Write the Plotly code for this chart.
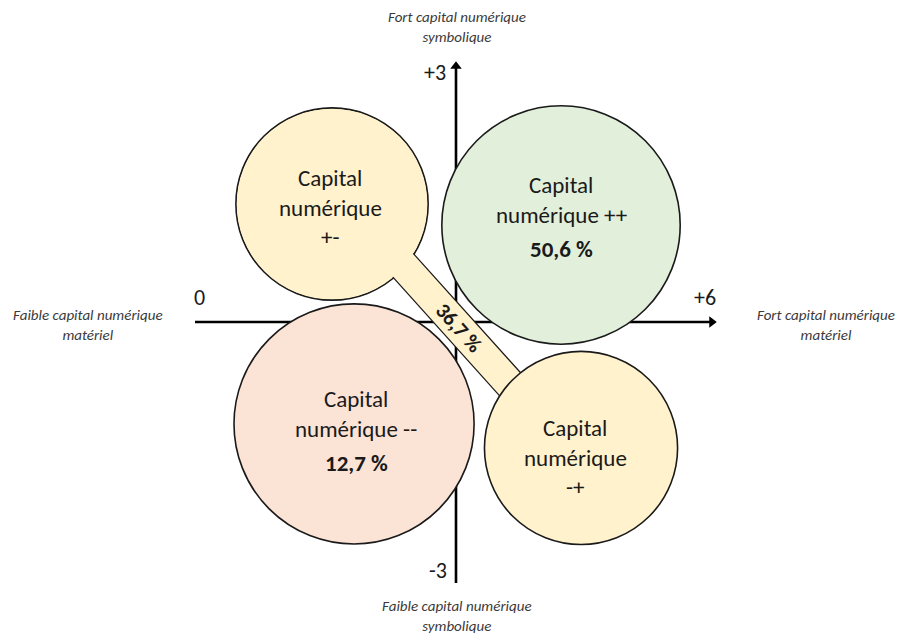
import plotly.graph_objects as go

# ---------------- data ----------------
segment_names = ["+-", "++", "--", "-+"]
segment_lines = [
    ["Capital", "numérique", "+-"],
    ["Capital", "numérique ++"],
    ["Capital", "numérique --"],
    ["Capital", "numérique", "-+"],
]
segment_shares = [None, 50.6, 12.7, None]   # % of respondents
mixed_share = 36.7                           # shared by "+-" and "-+"

x_axis_values = [0, 6]
y_axis_values = [-3, 3]
x_tick_labels = ["0", "+6"]
y_tick_labels = ["-3", "+3"]

pole_x_low = ["Faible capital numérique", "matériel"]
pole_x_high = ["Fort capital numérique", "matériel"]
pole_y_low = ["Faible capital numérique", "symbolique"]
pole_y_high = ["Fort capital numérique", "symbolique"]

# ---------------- layout / styling (axis units) ----------------
PX = 87.0  # pixels per axis unit
X_RANGE = [-195 / PX, (900 - 195) / PX]
Y_RANGE = [-(637 - 322) / PX, 322 / PX]

circle_geom = {  # center x, center y, radius
    "+-": (1.575, 1.356, 1.105),
    "++": (4.207, 1.115, 1.37),
    "--": (1.828, -1.172, 1.38),
    "-+": (4.437, -1.448, 1.11),
}
circle_fill = {"+-": "#FFF2CC", "++": "#E2EFDA", "--": "#FBE3D6", "-+": "#FFF2CC"}
text_pos = {  # x, first line y
    "+-": (1.552, 1.655),
    "++": (4.207, 1.575),
    "--": (1.851, -0.885),
    "-+": (4.368, -1.218),
}
LINE_STEP = 0.34
SHARE_GAP = 0.40

FONT = "Carlito, Calibri, Lato, sans-serif"
TXT = "#1a1a1a"
OUTLINE = "#1a1a1a"
BIG = 23

fig = go.Figure()

# ---- axes (drawn below the circles) ----
fig.add_trace(go.Scatter(x=[x_axis_values[0], x_axis_values[1] - 0.08], y=[0, 0], mode="lines",
                         line=dict(color="black", width=2.6), hoverinfo="skip", showlegend=False))
fig.add_trace(go.Scatter(x=[3, 3], y=[y_axis_values[0], y_axis_values[1] - 0.08], mode="lines",
                         line=dict(color="black", width=2.6), hoverinfo="skip", showlegend=False))
fig.add_trace(go.Scatter(x=[x_axis_values[1] - 0.06], y=[0], mode="markers",
                         marker=dict(symbol="triangle-right", size=10, color="black"),
                         hoverinfo="skip", showlegend=False))
fig.add_trace(go.Scatter(x=[3], y=[y_axis_values[1] - 0.06], mode="markers",
                         marker=dict(symbol="triangle-up", size=10, color="black"),
                         hoverinfo="skip", showlegend=False))

shapes = []


def circle(name, fill=True, line=True, shrink=0.0):
    cx, cy, r = circle_geom[name]
    r = r - shrink
    return dict(type="circle", xref="x", yref="y", layer="above",
                x0=cx - r, x1=cx + r, y0=cy - r, y1=cy + r,
                fillcolor=circle_fill[name] if fill else "rgba(0,0,0,0)",
                line=dict(color=OUTLINE if line else "rgba(0,0,0,0)", width=1.6 if line else 0))


# callout "+-" with its tail reaching "-+"
shapes.append(circle("+-"))
sx, sy = 1.897, 1.202      # tail start (inside "+-")
ex, ey = 4.143, -1.295     # tail end (inside "-+")
dx, dy = ex - sx, ey - sy
L = (dx ** 2 + dy ** 2) ** 0.5
nx, ny = -dy / L, dx / L
hw = 0.178
pts = [(sx + nx * hw, sy + ny * hw), (ex + nx * hw, ey + ny * hw),
       (ex - nx * hw, ey - ny * hw), (sx - nx * hw, sy - ny * hw)]
path = "M " + " L ".join(f"{px:.4f},{py:.4f}" for px, py in pts) + " Z"
shapes.append(dict(type="path", path=path, xref="x", yref="y", layer="above",
                   fillcolor=circle_fill["+-"], line=dict(color=OUTLINE, width=1.2)))
shapes.append(circle("+-", fill=True, line=False, shrink=0.012))
for nm in ["++", "--", "-+"]:
    shapes.append(circle(nm))

annotations = []


def txt(x, y, text, size=BIG, bold=False, italic=False, color=TXT, angle=0, yanchor="middle"):
    if bold:
        text = f"<b>{text}</b>"
    if italic:
        text = f"<i>{text}</i>"
    annotations.append(dict(x=x, y=y, xref="x", yref="y", text=text, showarrow=False,
                            font=dict(family=FONT, size=size, color=color),
                            textangle=angle, xanchor="center", yanchor=yanchor, align="center",
                            borderpad=0))


for nm, lines, share in zip(segment_names, segment_lines, segment_shares):
    x0, y0 = text_pos[nm]
    y = y0
    for ln in lines:
        txt(x0, y, ln)
        y -= LINE_STEP
    if share is not None:
        y = y + LINE_STEP - SHARE_GAP
        txt(x0, y, f"{share:.1f} %".replace(".", ","), bold=True)

txt(3.034, -0.069, f"{mixed_share:.1f} %".replace(".", ","), size=21, bold=True, angle=48)

# tick labels
txt(x_axis_values[0] + 0.046, 0.276, x_tick_labels[0], size=22)
txt(x_axis_values[1] - 0.138, 0.276, x_tick_labels[1], size=22)
txt(2.759, y_axis_values[1] - 0.134, y_tick_labels[1], size=22)
txt(2.793, y_axis_values[0] + 0.138, y_tick_labels[0], size=22)

# pole labels
POLE = "#3a3a3a"
PS = 15


def pole(x, y, lines, yanchor="middle"):
    txt(x, y, "<br>".join(lines), size=PS, italic=True, color=POLE, yanchor=yanchor)


pole(3.011, Y_RANGE[1] - 0.08, pole_y_high, yanchor="top")
pole(3.011, Y_RANGE[0] + 0.015, pole_y_low, yanchor="bottom")
pole(-1.230, -0.04, pole_x_low)
pole(7.253, -0.04, pole_x_high)

fig.update_layout(
    width=900, height=637,
    margin=dict(l=0, r=0, t=0, b=0),
    paper_bgcolor="white", plot_bgcolor="white",
    xaxis=dict(range=X_RANGE, visible=False, fixedrange=True),
    yaxis=dict(range=Y_RANGE, visible=False, fixedrange=True),
    shapes=shapes, annotations=annotations, showlegend=False,
)

fig.write_html("out.html", config={"displayModeBar": False},
               post_script="document.body.style.margin='0';document.body.style.overflow='hidden';")
